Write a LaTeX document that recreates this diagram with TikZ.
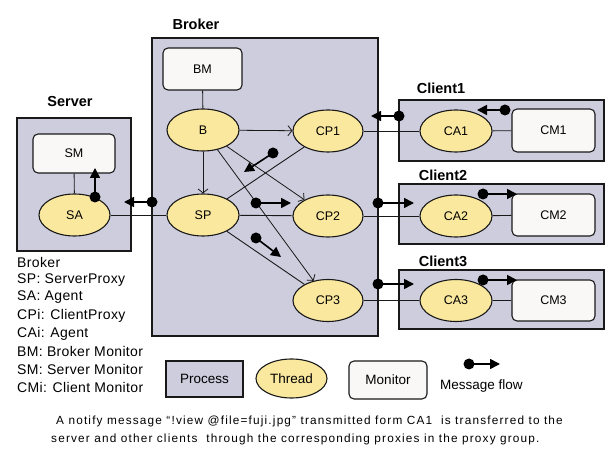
\documentclass[tikz,border=0pt]{standalone}
\usepackage{fontspec}
\setmainfont{Liberation Sans}
\usetikzlibrary{shapes.geometric,arrows.meta}
\definecolor{proc}{RGB}{206,205,222}
\definecolor{thr}{RGB}{250,232,158}
\definecolor{mon}{RGB}{249,248,246}
\definecolor{ink}{RGB}{25,25,25}
\begin{document}
\begin{tikzpicture}[x=1pt,y=-1pt,
  procbox/.style={draw=ink, line width=1.3pt, fill=proc, inner sep=0pt},
  thread/.style={ellipse, draw=ink, line width=1.1pt, fill=thr, minimum width=72pt, minimum height=42pt, inner sep=0pt, font=\fontsize{12.5}{14}\selectfont},
  monitor/.style={draw=ink, rounded corners=5pt, fill=mon, line width=1.1pt, inner sep=0pt, font=\fontsize{12.5}{14}\selectfont},
  title/.style={font=\fontsize{14.5}{16}\selectfont\bfseries, inner sep=0pt},
  link/.style={draw=ink, line width=0.9pt},
  flow/.style={draw=ink, line width=0.8pt, -{Straight Barb[length=4pt,width=10pt]}},
  msg/.style={draw=black, line width=1.6pt, -{Triangle[length=10pt,width=10pt]}},
  legtext/.style={anchor=west, inner sep=0pt, font=\fontsize{14}{16}\selectfont\addfontfeatures{LetterSpace=2.5}},
  captext/.style={anchor=west, inner sep=0pt, font=\fontsize{11.8}{13}\selectfont\addfontfeatures{LetterSpace=10}}
]
\useasboundingbox (0,0) rectangle (616,454);

% processes
\node[procbox, minimum width=226pt, minimum height=298pt] (broker) at (265,187) {};
\node[procbox, minimum width=114pt, minimum height=133pt] (server) at (74,184.5) {};
\node[procbox, minimum width=205pt, minimum height=61pt] (client1) at (501.5,130.5) {};
\node[procbox, minimum width=205pt, minimum height=60pt] (client2) at (501.5,214) {};
\node[procbox, minimum width=205pt, minimum height=59pt] (client3) at (501.5,299.5) {};

\node[title] (tbroker) at (196,24) {Broker};
\node[title] (tserver) at (70,102) {Server};
\node[title] (tclient1) at (441,88) {Client1};
\node[title] (tclient2) at (443,175) {Client2};
\node[title] (tclient3) at (443,261) {Client3};

% monitors
\node[monitor, minimum width=79pt, minimum height=42pt] (BM) at (202.5,69) {BM};
\node[monitor, minimum width=82pt, minimum height=39pt] (SM) at (74,153.5) {SM};
\node[monitor, minimum width=83pt, minimum height=43pt] (CM1) at (553.5,130.5) {CM1};
\node[monitor, minimum width=83pt, minimum height=42pt] (CM2) at (553.5,215) {CM2};
\node[monitor, minimum width=83pt, minimum height=41pt] (CM3) at (553.5,300.5) {CM3};

% threads
\node[thread] (B) at (203,130) {B};
\node[thread] (SP) at (203,215) {SP};
\node[thread, minimum width=71pt] (SA) at (74.5,215) {SA};
\node[thread, minimum width=70pt] (CP1) at (328,131) {CP1};
\node[thread, minimum width=70pt] (CP2) at (328,216) {CP2};
\node[thread, minimum width=70pt] (CP3) at (328,300.5) {CP3};
\node[thread] (CA1) at (456,131) {CA1};
\node[thread] (CA2) at (456,216) {CA2};
\node[thread] (CA3) at (456,300.5) {CA3};

% links
\draw[link] (BM) -- (B);
\draw[link] (SM) -- (SA);
\draw[link] (CA1) -- (CM1);
\draw[link] (CA2) -- (CM2);
\draw[link] (CA3) -- (CM3);
\draw[link] (SA) -- (SP);
\draw[link] (CP1) -- (CA1);
\draw[link] (CP2) -- (CA2);
\draw[link] (CP3) -- (CA3);
\draw[link] (SP) -- (CP1);
\draw[link] (SP) -- (CP2);
\draw[link] (SP) -- (CP3);

% broker control flows
\draw[flow] (B) -- (CP1);
\draw[flow] (B) -- (SP);
\draw[flow] (B) -- (CP2);
\draw[flow] (B) -- (CP3);

% message flows
\foreach \ax/\ay/\bx/\by in {
  505/110/477/110,
  399/116/371/116,
  273/153/244/172,
  152/202/124/202,
  95/197/95/168,
  256/203/291/203,
  256/238/281/257,
  378/203/414/203,
  483/194/517/194,
  378/284/414/284,
  483/280/517/280,
  469/364/500/364}{
  \draw[msg] (\ax,\ay) -- (\bx,\by);
  \fill[black] (\ax,\ay) circle (5.5pt);
}

% legend symbols
\node[procbox, minimum width=77pt, minimum height=36pt, font=\fontsize{13.5}{15}\selectfont] (lproc) at (204.5,379) {Process};
\node[thread, minimum width=71pt, minimum height=39pt, font=\fontsize{13.5}{15}\selectfont] (lthread) at (291.5,378.5) {Thread};
\node[monitor, minimum width=78pt, minimum height=38pt, font=\fontsize{13.5}{15}\selectfont] (lmon) at (388,380) {Monitor};
\node[anchor=west, inner sep=0pt, font=\fontsize{13.5}{15}\selectfont] (lmsg) at (440,386) {Message flow};

% abbreviations
\node[legtext] (a1) at (17,262) {Broker};
\node[legtext] (a2) at (17,280) {SP: ServerProxy};
\node[legtext] (a3) at (17,297.5) {SA: Agent};
\node[legtext] (a4) at (17,315.5) {CPi: ClientProxy};
\node[legtext] (a5) at (17,333.5) {CAi: Agent};
\node[legtext] (a6) at (17,351.5) {BM: Broker Monitor};
\node[legtext] (a7) at (17,369.5) {SM: Server Monitor};
\node[legtext] (a8) at (17,387.5) {CMi: Client Monitor};

% caption
\node[captext] (c1) at (56,421.5) {A notify message “!view @file=fuji.jpg” transmitted form CA1\ \ is transferred to the};
\node[captext] (c2) at (51,439) {server and other clients\ \ through the corresponding proxies in the proxy group.};
\end{tikzpicture}
\end{document}
